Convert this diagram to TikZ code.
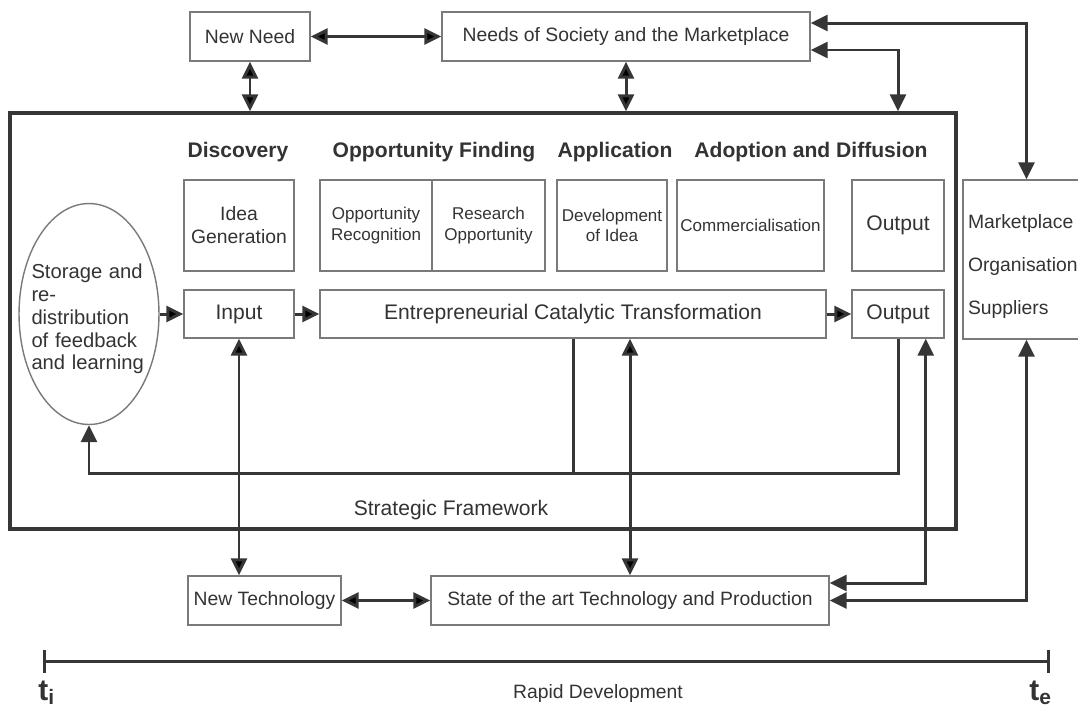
\documentclass[tikz,border=0pt]{standalone}
\usepackage{fontspec}
\setmainfont{Liberation Sans}
\usepackage{tikz}
\usetikzlibrary{shapes.geometric}
\usetikzlibrary{arrows.meta}
\definecolor{boxgray}{HTML}{7A7A7A}
\definecolor{arrowgray}{HTML}{363636}
\definecolor{textgray}{HTML}{333333}

\begin{document}
\begin{tikzpicture}[x=0.02cm,y=-0.02cm,>={Triangle[length=0.34cm,width=0.32cm]},
	link/.style={draw=arrowgray,line width=1.7pt},
	box node/.style={draw=boxgray,line width=0.8pt,text=textgray,inner sep=0pt,align=center,font=\fontsize{11}{13}\selectfont},
	big node/.style={box node,font=\fontsize{12}{14}\selectfont},
	small node/.style={box node,font=\fontsize{9.7}{11.5}\selectfont},
	head node/.style={text=textgray,inner sep=0pt,anchor=base,font=\fontsize{12}{14}\selectfont\bfseries},
	plain node/.style={text=textgray,inner sep=0pt,anchor=base,font=\fontsize{11}{13}\selectfont},
	time node/.style={text=textgray,inner sep=0pt,anchor=base west,font=\fontsize{17}{20}\selectfont\bfseries}]

	\useasboundingbox (0,0) rectangle (1078,711);

	\node[draw=arrowgray,line width=2pt,inner sep=0pt,minimum width=18.92cm,minimum height=8.32cm] (frame) at (483,321) {};

	\node[box node,minimum width=2.4cm,minimum height=0.98cm] (need) at (250,36.5) {New Need};
	\node[box node,minimum width=7.36cm,minimum height=0.98cm] (society) at (626,36.5) {Needs of Society and the Marketplace};

	\node[head node] (disc) at (238,157) {Discovery};
	\node[head node] (opp) at (434,157) {Opportunity Finding};
	\node[head node] (appl) at (615,157) {Application};
	\node[head node] (adopt) at (811,157) {Adoption and Diffusion};

	\node[box node,minimum width=2.2cm,minimum height=1.82cm] (idea) at (239,225.5) {Idea\\Generation};
	\node[small node,minimum width=2.24cm,minimum height=1.82cm] (recog) at (376,225.5) {Opportunity\\Recognition};
	\node[small node,minimum width=2.26cm,minimum height=1.82cm] (research) at (488.5,225.5) {Research\\Opportunity};
	\node[small node,minimum width=2.2cm,minimum height=1.82cm] (develop) at (612,225.5) {Development\\of Idea};
	\node[small node,minimum width=2.94cm,minimum height=1.82cm] (commerce) at (750.5,225.5) {Commercialisation};
	\node[big node,minimum width=1.84cm,minimum height=1.82cm] (outtop) at (898,225.5) {Output};

	\node[ellipse,draw=boxgray,line width=0.8pt,inner sep=0pt,minimum width=2.8cm,minimum height=4.42cm] (store) at (89,314) {};
	\node[text=textgray,inner sep=0pt,text width=2.3cm,align=left,font=\fontsize{11.5}{13}\selectfont] (storetext) at ([yshift=-0.1cm]store.center) {Storage and\\re-\\distribution\\of feedback\\and learning};

	\node[big node,minimum width=2.2cm,minimum height=0.96cm] (input) at (239,314) {Input};
	\node[big node,minimum width=10.12cm,minimum height=0.96cm] (trans) at (573,314) {Entrepreneurial Catalytic Transformation};
	\node[big node,minimum width=1.84cm,minimum height=0.96cm] (output) at (898,314) {Output};

	\node[box node,minimum width=2.54cm,minimum height=3.18cm] (market) at (1026.5,259.5) {};
	\node[text=textgray,inner sep=0pt,text width=2.34cm,align=left,font=\fontsize{11}{24.4}\selectfont] (markettext) at ([yshift=-0.14cm]market.center) {Marketplace\\Organisation\\Suppliers};

	\node[plain node,font=\fontsize{12}{14}\selectfont] (strat) at (451,515) {Strategic Framework};

	\node[box node,minimum width=3.06cm,minimum height=0.98cm] (newtech) at (264.5,600.5) {New Technology};
	\node[box node,minimum width=7.96cm,minimum height=0.98cm] (state) at (630,600.5) {State of the art Technology and Production};

	\coordinate (tleft) at (43,661);
	\coordinate (tright) at (1050,661);
	\node[time node] (ti) at (38,700) {t\textsubscript{i}};
	\node[time node] (te) at (1029,700) {t\textsubscript{e}};
	\node[plain node] (rapid) at (598,698) {Rapid Development};

	\path[link]
	(need) edge[<->] (society)
	(need.south) edge[<->] (need.south |- frame.north)
	(society.south) edge[<->] (society.south |- frame.north)
	(store) edge[->] (input)
	(input) edge[->] (trans)
	(trans) edge[->] (output)
	(input.south) edge[<->] (input.south |- newtech.north)
	(trans.south -| state.north) edge[<->] (state.north)
	(newtech) edge[<->] (state);

	\draw[link,<->] ([yshift=-0.27cm]society.east) -| (outtop.north |- frame.north);
	\draw[link,<->] ([yshift=0.27cm]society.east) -| (market.north);
	\draw[link,->] (output.south) -- ++(0,135) -| (store.south);
	\draw[link] (trans.south) -- ++(0,135);
	\draw[link,<->] ([xshift=-0.38cm]output.south east) |- ([yshift=0.35cm]state.east);
	\draw[link,<->] (market.south) |- (state.east);
	\draw[link,{Bar[width=0.46cm]}-{Bar[width=0.46cm]}] (tleft) -- (tright);

\end{tikzpicture}
\end{document}
